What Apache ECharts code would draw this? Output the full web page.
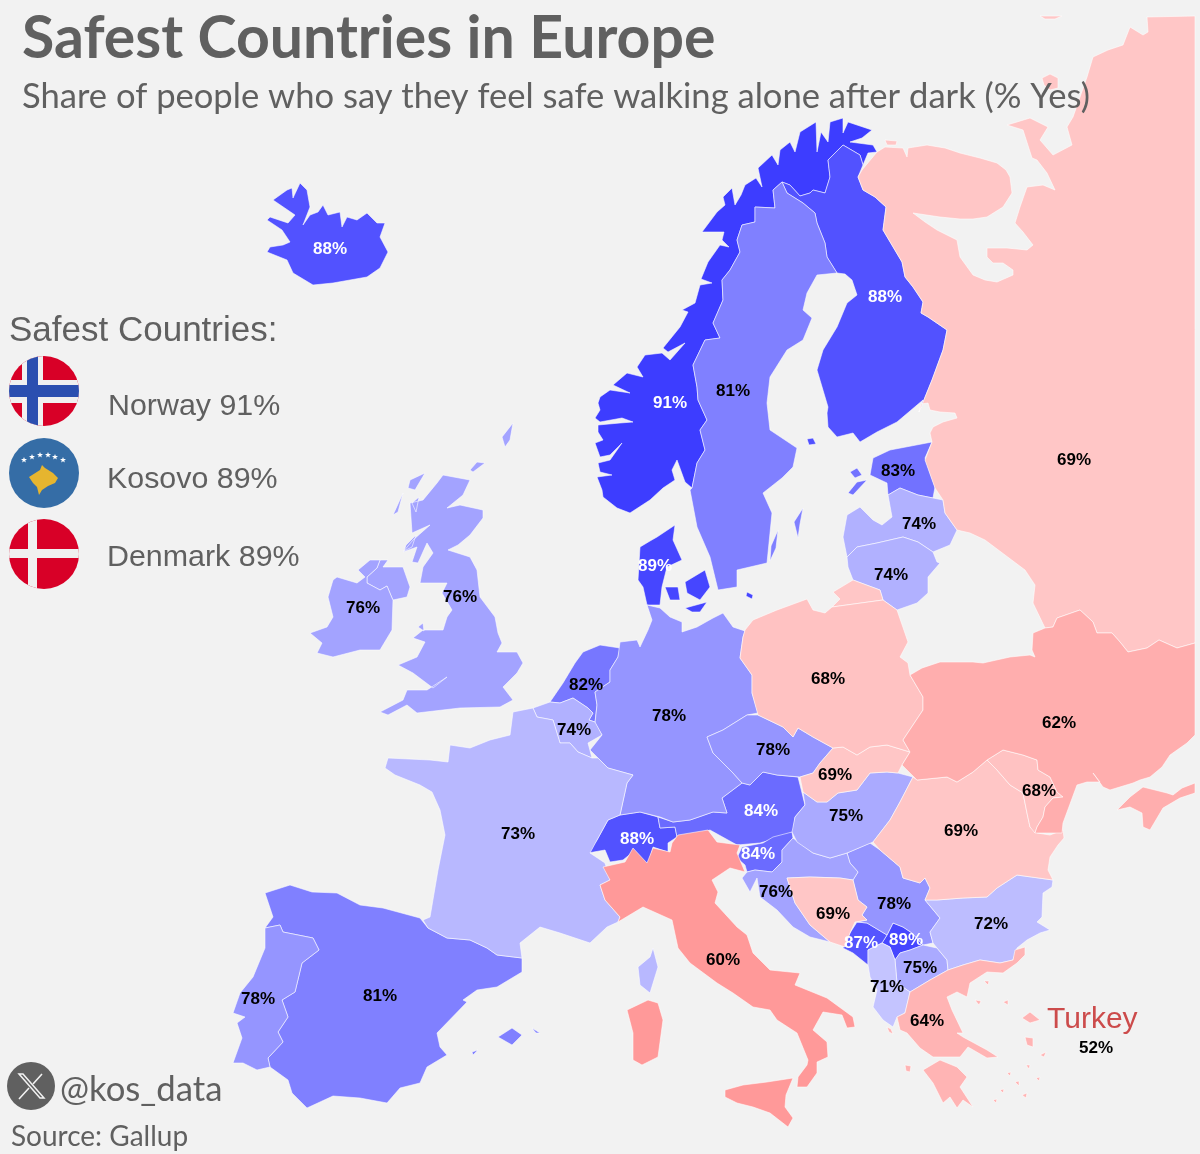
<!DOCTYPE html>
<html><head><meta charset="utf-8">
<script src="https://cdn.jsdelivr.net/npm/echarts@6/dist/echarts.min.js"></script>
<style>html,body{margin:0;padding:0;background:#f2f2f2}#c{width:1200px;height:1154px}</style>
</head><body><div id="c"></div>
<script>
const countries=['Norway','Kosovo','Denmark','Iceland','Finland','Switzerland','Montenegro','Austria','Slovenia','Estonia','Netherlands','Sweden','Spain','Germany','Czechia','Portugal','Serbia','United Kingdom','Ireland','Croatia','Hungary','North Macedonia','Latvia','Lithuania','Belgium','France','Bulgaria','Albania','Russia','Slovakia','Romania','Bosnia','Poland','Moldova','Greece','Ukraine','Italy','Turkey'];
const values=[91,89,89,88,88,88,87,84,84,83,82,81,81,78,78,78,78,76,76,76,75,75,74,74,74,73,72,71,69,69,69,69,68,68,64,62,60,52];
const shadeValues=[91,89,88,87,84,83,82,81,78,76,75,74,73,72,71,69,68,64,62,60,52];
const shadeColors=['#3d3dff','#4646ff','#5252ff','#5555ff','#6b6bff','#7272ff','#7777ff','#8080ff','#9595ff','#a3a3ff','#aaaaff','#b1b1ff','#b8b8ff','#bdbdff','#c4c4ff','#ffc6c6','#ffc2c2','#ffb4b4','#ffaeae','#ff9999','rgba(0,0,0,0)'];

// country outlines, in the reference picture's own map projection
const outlines={
Russia:['1195,16 1195,643 1177,648 1159,640 1147,648 1128,652 1120,642 1112,633 1097,633 1093,622 1080,610 1057,618 1053,627 1045,628 1033,603 1035,585 1025,570 1005,555 985,540 970,533 957,530 945,513 943,500 935,488 925,460 932,442 930,433 933,427 943,422 957,418 955,413 940,412 930,410 928,403 921,404 919,412 932,380 943,350 947,330 928,317 921,313 923,302 913,287 905,277 902,262 883,230 886,207 875,197 863,190 858,177 862,170 877,152 885,147 903,148 907,157 908,148 927,145 945,148 960,153 980,158 997,163 1006,170 1010,177 1012,193 1003,207 987,217 973,219 960,219 940,217 913,213 925,222 937,230 957,240 960,257 973,275 985,280 997,282 1013,275 1013,270 1003,263 993,263 987,257 987,248 1007,248 1027,250 1033,245 1023,232 1015,223 1020,207 1027,187 1043,185 1055,190 1047,173 1037,160 1032,158 1023,130 1007,125 1030,118 1048,127 1040,140 1053,155 1072,145 1067,127 1073,117 1087,77 1093,57 1108,50 1123,45 1130,27 1143,35 1148,32 1147,17',
 '1042,78 1050,74 1058,78 1058,88 1050,90 1044,85','885,140 897,141 896,145 887,145','1040,16 1062,16 1055,19 1045,19',
 '833,592 853,580 880,590 883,600 832,607 840,599'],
Finland:['843,145 860,155 863,165 858,177 863,190 875,197 886,207 883,230 902,262 905,277 913,287 923,302 921,313 928,317 947,330 943,350 932,380 919,412 923,400 897,422 877,432 860,442 853,433 837,437 828,427 827,413 828,407 817,370 823,350 837,327 847,303 857,295 852,280 845,274 837,273 827,257 825,243 817,223 815,213 803,203 787,193 782,182 790,185 800,196 810,193 813,190 825,193 830,177 828,160',
 '807,439 813,438 816,444 809,445'],
Norway:['602,490 597,477 612,475 600,472 598,463 610,460 622,443 610,455 600,457 595,443 603,440 598,432 598,425 620,423 633,422 622,418 600,422 595,418 600,410 598,403 600,397 610,390 630,393 613,385 627,373 643,377 637,367 645,355 662,353 670,360 685,343 668,352 663,348 680,327 688,312 682,310 695,303 700,285 712,283 701,279 708,262 720,245 729,247 722,240 724,232 702,232 717,212 725,205 723,197 732,188 735,205 741,195 745,185 756,178 762,187 758,168 772,155 778,165 780,150 790,142 795,152 800,132 816,122 817,152 821,132 828,142 830,122 843,118 843,133 848,122 872,130 862,138 850,142 873,145 877,152 868,153 863,165 860,155 843,145 828,160 830,177 825,193 813,190 810,193 800,196 790,185 782,182 773,190 775,208 755,207 755,222 742,225 737,240 740,252 730,270 722,280 723,300 713,323 720,338 705,340 693,365 697,387 698,400 707,420 700,430 705,450 697,463 692,488 685,482 677,460 672,470 675,480 663,488 650,500 630,513 617,508 603,497'],
Sweden:['773,190 782,182 787,193 803,203 815,213 817,223 825,243 827,257 837,273 817,275 807,293 803,310 812,318 803,340 787,350 770,377 767,403 770,430 797,448 793,467 782,478 763,493 772,513 767,563 737,570 737,587 718,590 710,557 697,527 690,490 692,488 697,463 705,450 700,430 707,420 698,400 697,387 693,365 705,340 720,338 713,323 723,300 722,280 730,270 740,252 737,240 742,225 755,222 755,207 775,208',
 '794,522 803,508 800,524 798,538','778,530 776,548 770,561 771,546'],
Denmark:['675,525 673,540 682,560 667,567 662,587 660,605 647,605 643,587 638,580 640,547 650,541 657,537','685,582 705,570 710,587 700,600 687,593','665,587 678,587 680,600 670,600','685,608 707,602 700,612 692,612','747,592 753,595 752,599 746,596'],
Germany:['647,605 660,608 670,617 682,622 682,632 697,627 713,618 723,613 733,627 745,631 743,637 740,658 752,675 752,693 758,713 747,715 723,730 707,737 713,753 733,773 742,783 722,798 727,813 713,812 690,820 673,822 660,817 640,812 620,815 627,783 633,775 608,768 598,758 590,750 602,735 595,723 595,722 597,705 595,692 610,682 610,670 618,657 620,642 637,640 640,647 648,630 652,620'],
Netherlands:['620,648 600,645 583,652 575,663 563,683 550,702 560,703 573,698 588,708 593,713 589,720 595,722 597,705 595,692 610,682 610,670 618,657'],
Belgium:['533,708 550,702 560,703 573,698 588,708 593,713 589,720 595,722 602,735 588,743 592,758 578,752 570,743 560,743 553,720 537,717'],
France:['533,708 513,712 510,735 490,740 470,748 450,745 448,762 430,760 388,758 385,768 395,775 420,785 432,792 440,810 445,835 438,870 430,917 423,920 428,928 447,938 470,940 487,948 497,955 522,958 520,943 540,927 560,933 590,943 607,927 618,922 620,917 605,900 600,885 610,880 605,863 590,853 597,840 608,820 620,815 627,783 633,775 608,768 598,758 592,758 578,752 570,743 560,743 553,720 537,717',
 '653,948 658,967 650,993 640,985 638,967 650,957'],
Switzerland:['588,853 605,850 610,862 623,860 633,852 648,865 653,847 668,852 668,843 677,837 675,827 660,828 658,817 640,812 620,815 608,820 597,840'],
Austria:['658,817 673,822 690,820 713,812 727,813 722,798 742,783 750,785 763,772 777,775 798,777 803,797 805,805 795,817 793,832 777,838 760,843 737,845 710,830 693,835 677,837 675,827 660,828'],
Czechia:['707,737 723,730 747,715 758,715 783,727 793,737 798,728 813,737 833,748 820,763 813,773 800,777 777,775 763,772 750,785 742,783 733,773 713,753'],
Poland:['745,630 753,620 777,610 807,599 813,610 825,613 832,607 883,600 897,610 908,642 900,657 908,663 910,675 923,697 923,710 903,740 910,752 887,745 870,747 857,755 843,747 833,748 813,737 798,728 793,737 783,727 758,715 752,693 752,675 740,658 743,637'],
Slovakia:['833,748 843,747 857,755 870,747 887,745 910,752 902,765 898,773 887,772 870,773 857,790 838,793 827,802 817,802 803,792 800,777 813,773 820,763'],
Hungary:['803,792 817,802 827,802 838,793 857,790 870,773 887,772 898,773 913,777 900,802 890,820 873,842 847,853 830,858 813,853 797,842 792,832 795,817 805,805'],
Slovenia:['792,832 793,838 782,850 782,862 772,872 755,870 747,872 745,865 737,858 742,847 763,843 773,837'],
Croatia:['793,838 813,853 830,858 847,853 850,863 858,872 853,880 840,878 810,877 787,878 795,903 810,925 830,942 810,937 793,927 777,910 760,897 757,878 750,892 742,878 747,872 755,870 772,872 782,862 782,850'],
Bosnia:['787,878 810,877 840,878 853,880 858,900 867,907 862,915 867,920 855,922 850,933 845,947 830,942 810,925 795,903'],
Montenegro:['857,922 867,923 887,935 882,943 868,950 868,965 853,953 843,948 850,933'],
Serbia:['847,853 870,843 880,850 900,867 903,878 920,883 925,878 930,888 925,900 940,918 930,932 933,943 923,945 912,933 903,927 893,923 887,935 867,923 857,922 867,920 862,915 867,907 858,900 853,880 858,872 850,863'],
Kosovo:['893,923 903,927 912,933 923,945 910,950 900,953 895,960 890,947 882,943 887,935'],
'North Macedonia':['923,945 937,948 947,960 948,970 930,980 910,992 897,983 895,960 900,953 910,950'],
Albania:['868,950 882,943 890,947 895,960 897,983 910,992 905,1013 897,1017 893,1027 883,1020 873,1007 877,990 870,977 868,965'],
Greece:['897,1017 905,1013 910,992 930,980 948,970 963,965 980,960 1000,963 1013,960 1015,950 1025,947 1025,955 1017,963 1003,973 987,972 970,983 967,997 957,992 947,997 952,1010 963,1033 957,1033 963,1037 987,1050 998,1057 987,1058 968,1047 960,1057 947,1057 933,1057 920,1048 907,1033 900,1030',
 '923,1070 940,1060 957,1067 967,1077 960,1087 973,1107 963,1100 957,1108 950,1097 943,1103 933,1083',
 '1022,1018 1030,1012 1040,1020 1030,1023','1025,1037 1033,1038 1033,1047 1027,1045','887,1027 891,1029 893,1034 889,1032','905,1065 911,1066 910,1072 906,1071','1003,1002 1008,1000 1008,1005','984,981 989,981 988,985','1015,1082 1019,1081 1019,1086','1000,1090 1004,1089 1003,1093','975,1000 981,1001 979,1005','1040,1055 1046,1052 1044,1057','1026,1065 1030,1065 1029,1069','993,1100 997,1099 996,1103','1007,1073 1011,1072 1010,1076','1022,1095 1027,1093 1026,1098','1036,1078 1040,1077 1039,1081'],
Bulgaria:['925,900 937,900 963,898 987,897 997,888 1017,875 1053,880 1052,887 1043,893 1042,917 1037,922 1050,930 1040,933 1027,940 1017,948 1013,960 1000,963 980,960 963,965 948,970 947,960 937,948 933,943 930,932 940,918'],
Romania:['913,777 917,780 947,777 957,782 973,772 987,760 997,770 1010,785 1023,793 1027,813 1030,827 1037,833 1050,835 1063,830 1064,838 1058,845 1050,857 1048,870 1053,880 1017,875 997,888 987,897 963,898 937,900 925,900 930,888 925,878 920,883 903,878 900,867 880,850 873,842 890,820 900,802'],
Moldova:['987,760 1003,750 1023,755 1037,760 1038,770 1050,777 1057,792 1063,797 1053,798 1045,807 1043,817 1037,827 1035,833 1030,827 1027,813 1023,793 1010,785 997,770'],
Ukraine:['910,675 922,668 940,662 973,662 983,663 1010,657 1030,655 1035,657 1032,650 1033,633 1045,628 1053,627 1057,618 1080,610 1093,622 1097,633 1112,633 1120,642 1128,652 1147,648 1159,640 1177,648 1195,643 1195,735 1187,743 1170,755 1162,767 1150,777 1140,780 1133,783 1110,790 1103,787 1093,773 1100,782 1087,782 1077,785 1063,823 1062,833 1037,833 1035,833 1037,827 1043,817 1045,807 1053,798 1063,797 1057,792 1050,777 1038,770 1037,760 1023,755 1003,750 987,760 973,772 957,782 947,777 917,780 902,765 910,752 903,740 923,710 923,697',
 '1117,810 1130,797 1143,787 1167,793 1173,795 1182,788 1195,783 1195,793 1180,798 1163,808 1150,830 1143,827 1142,813 1130,807'],
Estonia:['873,458 890,450 932,442 925,458 935,487 933,498 918,495 900,488 888,495 887,483 870,475','848,493 857,482 867,480 853,495','850,472 857,468 862,475 855,478'],
Latvia:['888,495 900,488 918,495 933,498 943,500 945,513 957,530 950,545 933,552 918,542 903,537 877,543 857,547 847,557 843,537 847,515 860,507 873,520 882,525 892,517'],
Lithuania:['847,557 857,547 877,543 903,537 918,542 933,552 937,562 940,563 928,577 928,593 917,603 897,610 883,600 880,590 853,580 848,567'],
Iceland:['267,252 270,247 283,245 290,242 282,230 267,220 270,217 288,223 295,215 273,200 287,190 292,188 293,198 300,183 307,190 310,207 303,225 310,215 318,212 323,205 328,215 340,212 342,227 347,217 357,220 367,213 377,223 385,223 380,237 388,252 380,268 367,277 333,283 313,285 293,273 287,260'],
Ireland:['310,633 327,627 333,617 328,597 333,580 337,577 357,583 365,577 358,570 370,560 380,560 377,568 367,577 367,583 380,590 387,586 392,598 393,600 392,630 380,650 360,650 333,657 317,653 322,643'],
'United Kingdom':['367,577 377,568 380,560 388,560 383,567 403,567 410,587 407,597 393,600 392,598 387,586 380,590 367,583',
 '443,475 470,480 463,495 447,508 460,505 483,510 483,518 470,535 458,545 448,550 470,557 477,570 480,597 495,617 498,633 502,643 497,652 517,652 523,663 517,673 503,687 513,700 500,707 460,708 417,713 407,705 388,715 380,712 403,700 407,690 427,690 447,677 433,688 413,673 398,665 417,657 425,642 413,638 423,630 443,630 447,617 452,610 442,593 447,583 420,583 423,567 433,553 427,543 418,563 412,562 417,547 403,552 413,540 430,525 412,533 410,503 423,500 437,483',
 '410,480 425,473 415,490 408,488','470,470 477,462 485,463 473,472','502,437 513,423 510,440 505,447','393,515 403,493 398,512','418,627 423,623 424,631','406,545 416,535 412,547 404,551','412,503 419,497 416,512'],
Spain:['265,893 290,885 312,892 337,893 360,905 383,908 420,918 428,928 447,938 470,940 487,948 497,955 522,958 522,972 497,987 477,990 463,1000 467,1002 437,1033 440,1047 447,1055 427,1067 420,1083 400,1088 387,1103 360,1098 333,1096 307,1108 292,1093 288,1080 270,1067 268,1058 283,1042 278,1032 288,1017 282,1000 295,992 302,963 319,950 313,938 283,932 280,925 265,928 273,917',
 '498,1037 512,1028 522,1035 512,1045','532,1028 540,1033 536,1033','472,1052 478,1050 473,1055'],
Portugal:['265,928 280,925 283,932 313,938 319,950 302,963 295,992 282,1000 288,1017 278,1032 283,1042 268,1058 270,1067 257,1070 243,1063 233,1063 242,1038 237,1023 245,1017 233,1013 240,993 253,977 265,948'],
Italy:['603,867 625,862 633,848 647,863 653,848 670,852 672,843 678,835 708,830 717,842 740,845 737,853 745,872 730,868 712,880 718,892 715,903 737,927 747,935 753,953 770,970 800,973 795,985 827,998 853,1017 855,1027 847,1028 842,1015 823,1012 813,1030 827,1042 828,1057 817,1062 817,1073 807,1087 797,1087 798,1077 807,1065 808,1060 797,1033 777,1020 770,1010 753,1007 733,993 717,983 690,963 678,948 672,920 643,907 618,922 620,917 605,900 600,885 610,880',
 '725,1090 743,1085 767,1082 793,1078 786,1095 785,1107 793,1118 788,1127 770,1113 753,1107 737,1103 725,1097',
 '627,1010 648,1000 658,1003 663,1020 658,1057 642,1065 633,1060 633,1033'],
Turkey:['1095,1047 1097,1047 1096,1049']
};
// where each country's label sits on the map
const labelAnchors={Norway:[670,403],Kosovo:[906,940],Denmark:[655,566],Iceland:[330,249],Finland:[885,297],Switzerland:[637,839],Montenegro:[861,943],Austria:[761,811],Slovenia:[758,854],Estonia:[898,471],Netherlands:[586,685],Sweden:[733,391],Spain:[380,996],Germany:[669,716],Czechia:[773,750],Portugal:[258,999],Serbia:[894,904],'United Kingdom':[460,597],Ireland:[363,608],Croatia:[776,892],Hungary:[846,816],'North Macedonia':[920,968],Latvia:[919,524],Lithuania:[891,575],Belgium:[574,730],France:[518,834],Bulgaria:[991,924],Albania:[887,987],Russia:[1074,460],Slovakia:[835,775],Romania:[961,831],Bosnia:[833,914],Poland:[828,679],Moldova:[1039,791],Greece:[927,1021],Ukraine:[1059,723],Italy:[723,960],Turkey:[1096,1048]};

const ring=s=>{const r=s.split(' ').map(p=>p.split(',').map(Number));r.push(r[0]);return r;};
const geo={type:'FeatureCollection',features:countries.map(n=>({type:'Feature',properties:{name:n,cp:labelAnchors[n]},geometry:{type:'MultiPolygon',coordinates:outlines[n].map(s=>[ring(s)])}}))};
echarts.registerMap('europe',geo);

const norwayFlag=`<svg xmlns="http://www.w3.org/2000/svg" width="140" height="140" viewBox="0 0 70 70"><defs><clipPath id="a"><circle cx="35" cy="35" r="35"/></clipPath></defs><g clip-path="url(#a)"><rect width="70" height="70" fill="#d80027"/><rect x="13" width="21" height="70" fill="#f0f0f0"/><rect y="24" width="70" height="23" fill="#f0f0f0"/><rect x="18" width="11" height="70" fill="#2b4fb0"/><rect y="29" width="70" height="12" fill="#2b4fb0"/></g></svg>`;
const denmarkFlag=`<svg xmlns="http://www.w3.org/2000/svg" width="140" height="140" viewBox="0 0 70 70"><defs><clipPath id="a"><circle cx="35" cy="35" r="35"/></clipPath></defs><g clip-path="url(#a)"><rect width="70" height="70" fill="#d80027"/><rect x="19" width="9" height="70" fill="#f0f0f0"/><rect y="30" width="70" height="9" fill="#f0f0f0"/></g></svg>`;
const star=(x,y)=>`<polygon fill="#fff" points="${x},${y-3} ${x+.8},${y-.9} ${x+3},${y-.9} ${x+1.2},${y+.4} ${x+1.9},${y+2.6} ${x},${y+1.3} ${x-1.9},${y+2.6} ${x-1.2},${y+.4} ${x-3},${y-.9} ${x-.8},${y-.9}"/>`;
const kosovoFlag=`<svg xmlns="http://www.w3.org/2000/svg" width="140" height="140" viewBox="0 0 70 70"><circle cx="35" cy="35" r="35" fill="#356da6"/>${[[15,22],[23,19],[31,17],[39,17],[46,19],[54,22]].map(p=>star(p[0],p[1])).join('')}<polygon fill="#e6b52f" points="20,39 31,32 33,27 36,30 44,35 49,40 46,45 39,48 33,52 30,57 28,49 24,45"/></svg>`;
const xLogo=`<svg xmlns="http://www.w3.org/2000/svg" width="96" height="96" viewBox="0 0 48 48"><circle cx="24" cy="24" r="24" fill="#606060"/><path d="M12 12 L33 36 H37 L16 12 Z" fill="none" stroke="#f2f2f2" stroke-width="1.5"/><path d="M35 12 L26 22 M22 26 L12 37" fill="none" stroke="#f2f2f2" stroke-width="1.6"/></svg>`;
const uri=s=>'data:image/svg+xml;charset=utf-8,'+encodeURIComponent(s);

const ink='#606060';
const txt=(text,x,y,size,family,extra)=>({type:'text',x,y,z:20,style:Object.assign({text,fill:ink,font:`${size}px ${family}`,textVerticalAlign:'middle',textBaseline:'middle'},extra||{})});
const img=(src,x,y,s)=>({type:'image',x,y,z:20,style:{image:uri(src),width:s,height:s}});

const chart=echarts.init(document.getElementById('c'),null,{renderer:'canvas',width:1200,height:1154});
chart.setOption({
 backgroundColor:'#f2f2f2',animation:false,
 title:{text:'Safest Countries in Europe',subtext:'Share of people who say they feel safe walking alone after dark (% Yes)',left:22,top:5,itemGap:2,z:20,padding:0,
  textStyle:{fontFamily:'Lato',fontWeight:'bold',fontSize:59,color:ink,lineHeight:68},
  subtextStyle:{fontFamily:'Lato',fontSize:34.6,color:ink,lineHeight:44}},
 visualMap:{show:false,type:'piecewise',seriesIndex:0,pieces:shadeValues.map((v,i)=>({value:v,color:shadeColors[i]}))},
 series:[{type:'map',map:'europe',roam:false,silent:true,selectedMode:false,
  projection:{project:p=>p,unproject:p=>p},
  boundingCoords:[[0,0],[1200,1154]],left:0,top:0,width:1200,height:1154,
  itemStyle:{borderColor:'rgba(255,255,255,0.7)',borderWidth:0.8},
  label:{show:true,formatter:'{c}%',fontFamily:'Liberation Sans',fontWeight:'bold',fontSize:17,color:'#000',offset:[0,1]},
  emphasis:{disabled:true},
  labelLayout:{hideOverlap:false},
  data:countries.map((n,i)=>({name:n,value:values[i],label:{color:values[i]>=84?'#fff':'#000'}}))}],
 graphic:{elements:[
  txt('Safest Countries:',9,331,35,'"Liberation Sans"'),
  img(norwayFlag,9,356,70),txt('Norway 91%',108,407,30.4,'"Liberation Sans"'),
  img(kosovoFlag,9,438,70),txt('Kosovo 89%',107,480,30.4,'"Liberation Sans"'),
  img(denmarkFlag,9,519,70),txt('Denmark 89%',107,558,30.4,'"Liberation Sans"'),
  txt('Turkey',1047,1020,30,'"Liberation Sans"',{fill:'#cc4b4b'}),
  img(xLogo,7,1062,48),txt('@kos_data',60,1090,34.7,'Lato'),
  txt('Source: Gallup',11,1137,28,'Lato')
 ]}
});
</script></body></html>
